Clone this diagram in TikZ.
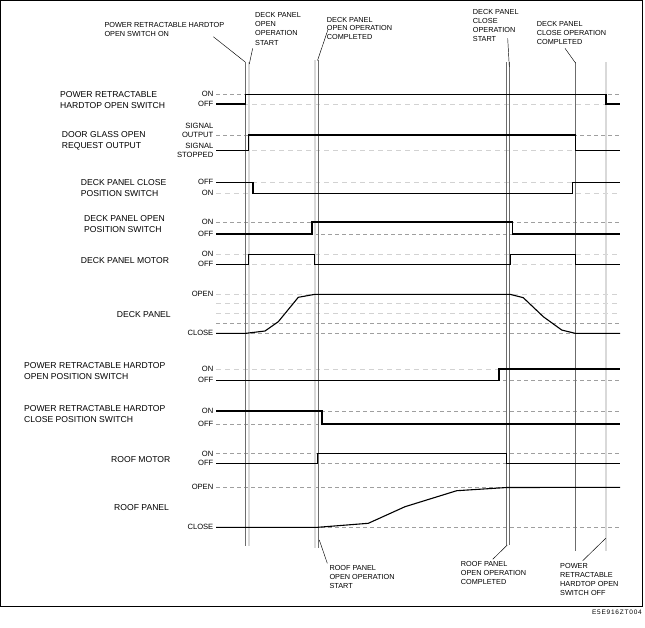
\documentclass[tikz,border=0pt]{standalone}
\usepackage{fontspec}
\setmainfont{Liberation Sans}
\begin{document}
\begin{tikzpicture}[x=1pt,y=-1pt,
  sig/.style={line width=1.1pt, black, line join=miter},
  lvd/.style={gray!75, line width=0.5pt, dash pattern=on 4pt off 3pt},
  lvl/.style={gray!35, line width=0.9pt, dash pattern=on 5pt off 4pt},
  vdark/.style={gray!85!black, line width=0.6pt},
  vlight/.style={gray!30, line width=2pt},
  leader/.style={black, line width=0.45pt},
  lab/.style={inner sep=0pt, anchor=north west, align=left, font=\fontsize{8.6}{11.3}\selectfont},
  tick/.style={inner sep=0pt, anchor=east, font=\fontsize{7.6}{9.2}\selectfont},
  tick2/.style={inner sep=0pt, anchor=north east, align=right, font=\fontsize{7.6}{9.2}\selectfont},
  ann/.style={inner sep=0pt, anchor=north west, align=left, font=\fontsize{7.3}{9.1}\selectfont}]
\useasboundingbox (0,0) rectangle (645,627);
\draw[line width=0.8pt] (0.5,0.5) rectangle (642.5,606.5);

% level guide lines
\foreach \yy in {94.3,135,222,234,323.3,333.3,380.3,411,424,453.5,463.3,487.3,527.3}
  \draw[lvd] (216,\yy) -- (620,\yy);
\foreach \yy in {104,150.7,182.3,193.3,254.3,264.3,294,303.7,313.7,369}
  \draw[lvl] (216,\yy) -- (620,\yy);

% event lines
\draw[vlight] (248.7,62) -- (248.7,546);
\draw[vlight] (315.3,60) -- (315.3,548);
\draw[vlight] (606,62) -- (606,551);
\draw[vdark] (245.7,62) -- (245.7,546);
\draw[vdark] (318.7,60) -- (318.7,548);
\draw[vdark] (506.7,62) -- (506.7,545);
\draw[vdark] (509.3,62) -- (509.3,545);
\draw[vdark] (575.5,62) -- (575.5,551);

% signals
\draw[sig] (216,104) -- (245.7,104) -- (245.7,94.3) -- (606,94.3) -- (606,104) -- (620,104);
\draw[sig] (216,150.7) -- (248.7,150.7) -- (248.7,135) -- (575.7,135) -- (575.7,150.7) -- (620,150.7);
\draw[sig] (216,182.3) -- (253,182.3) -- (253,193.3) -- (572.3,193.3) -- (572.3,182.3) -- (620,182.3);
\draw[sig] (216,234) -- (312,234) -- (312,222) -- (512.7,222) -- (512.7,234) -- (620,234);
\draw[sig] (216,264.3) -- (248.7,264.3) -- (248.7,254.3) -- (314.7,254.3) -- (314.7,264.3) -- (510.7,264.3) -- (510.7,254.3) -- (575.7,254.3) -- (575.7,264.3) -- (620,264.3);
\draw[sig] (216,333.3) -- (246,333.3) -- (265,331) -- (278.3,321.7) -- (298.3,297.3) -- (315,294.3) -- (510,294.3) -- (523.3,297.7) -- (543.3,316.7) -- (561.7,330) -- (575,333.3) -- (620,333.3);
\draw[sig] (216,380.3) -- (499,380.3) -- (499,369) -- (620,369);
\draw[sig] (216,411) -- (322,411) -- (322,424) -- (620,424);
\draw[sig] (216,463.3) -- (317.7,463.3) -- (317.7,453.5) -- (506.7,453.5) -- (506.7,463.3) -- (620,463.3);
\draw[sig] (216,527.3) -- (317.7,527.3) -- (368.3,523.3) -- (405,506.7) -- (456.7,490.7) -- (506.7,487.5) -- (620,487.3);

% row labels
\node[lab] (l1) at (60,91) {POWER RETRACTABLE\\HARDTOP OPEN SWITCH};
\node[lab] (l2) at (61.7,131.3) {DOOR GLASS OPEN\\REQUEST OUTPUT};
\node[lab] (l3) at (80.7,179) {DECK PANEL CLOSE\\POSITION SWITCH};
\node[lab] (l4) at (84,215) {DECK PANEL OPEN\\POSITION SWITCH};
\node[lab] (l5) at (80.7,257) {DECK PANEL MOTOR};
\node[lab] (l6) at (116.7,311) {DECK PANEL};
\node[lab] (l7) at (24,362) {POWER RETRACTABLE HARDTOP\\OPEN POSITION SWITCH};
\node[lab] (l8) at (24,405.3) {POWER RETRACTABLE HARDTOP\\CLOSE POSITION SWITCH};
\node[lab] (l9) at (111,456) {ROOF MOTOR};
\node[lab] (l10) at (114,504.3) {ROOF PANEL};

% level labels
\node[tick] (t1a) at (213.5,94.3) {ON};
\node[tick] (t1b) at (213.5,104) {OFF};
\node[tick2] (t2a) at (213.5,123.1) {SIGNAL\\OUTPUT};
\node[tick2, font=\fontsize{7.6}{9}\selectfont] (t2b) at (213.5,143.4) {SIGNAL\\STOPPED};
\node[tick] (t3a) at (213.5,182.3) {OFF};
\node[tick] (t3b) at (213.5,193.3) {ON};
\node[tick] (t4a) at (213.5,222) {ON};
\node[tick] (t4b) at (213.5,234) {OFF};
\node[tick] (t5a) at (213.5,254.3) {ON};
\node[tick] (t5b) at (213.5,264.3) {OFF};
\node[tick] (t6a) at (213.5,294) {OPEN};
\node[tick] (t6b) at (213.5,333.3) {CLOSE};
\node[tick] (t7a) at (213.5,369) {ON};
\node[tick] (t7b) at (213.5,380.3) {OFF};
\node[tick] (t8a) at (213.5,411) {ON};
\node[tick] (t8b) at (213.5,424) {OFF};
\node[tick] (t9a) at (213.5,453.5) {ON};
\node[tick] (t9b) at (213.5,463.3) {OFF};
\node[tick] (t10a) at (213.5,487.3) {OPEN};
\node[tick] (t10b) at (213.5,527.3) {CLOSE};

% annotations
\node[ann, font=\fontsize{7.3}{8.3}\selectfont] (a1) at (104.3,22.5) {POWER RETRACTABLE HARDTOP\\OPEN SWITCH ON};
\node[ann] (a2) at (255,12.5) {DECK PANEL\\OPEN\\OPERATION\\START};
\node[ann, font=\fontsize{7.3}{8.2}\selectfont] (a3) at (326.7,17.5) {DECK PANEL\\OPEN OPERATION\\COMPLETED};
\node[ann] (a4) at (472.7,9.2) {DECK PANEL\\CLOSE\\OPERATION\\START};
\node[ann] (a5) at (536.7,20.8) {DECK PANEL\\CLOSE OPERATION\\COMPLETED};
\node[ann, font=\fontsize{7.3}{9}\selectfont] (b1) at (329.3,565.2) {ROOF PANEL\\OPEN OPERATION\\START};
\node[ann] (b2) at (460.7,560.8) {ROOF PANEL\\OPEN OPERATION\\COMPLETED};
\node[ann, font=\fontsize{7.3}{8.9}\selectfont] (b3) at (560,563.5) {POWER\\RETRACTABLE\\HARDTOP OPEN\\SWITCH OFF};
\node[inner sep=0pt, anchor=east, font=\fontsize{6.5}{7}\selectfont\addfontfeatures{LetterSpace=12}] (ref) at (642,612.5) {E5E916ZT004};

% leader lines
\coordinate (a1s) at (213.3,36.7); \coordinate (a1e) at (245.2,62);
\coordinate (a2s) at (252.7,48.3); \coordinate (a2e) at (249.3,64);
\coordinate (a3s) at (328,29.5);   \coordinate (a3e) at (317.5,60.5);
\coordinate (a4s) at (507.7,38.3); \coordinate (a4e) at (509.3,66.7);
\coordinate (a5s) at (565,48.3);   \coordinate (a5e) at (575.5,63);
\coordinate (b1s) at (327.3,563.3); \coordinate (b1e) at (319.3,540);
\coordinate (b2s) at (492.7,559.3); \coordinate (b2e) at (507.3,545);
\coordinate (b3s) at (582.7,560.7); \coordinate (b3e) at (605.7,538.3);
\draw[leader] (a1s) -- (a1e);
\draw[leader] (a2s) -- (a2e);
\draw[leader] (a3s) -- (a3e);
\draw[leader] (a4s) -- (a4e);
\draw[leader] (a5s) -- (a5e);
\draw[leader] (b1s) -- (b1e);
\draw[leader] (b2s) -- (b2e);
\draw[leader] (b3s) -- (b3e);
\end{tikzpicture}
\end{document}
